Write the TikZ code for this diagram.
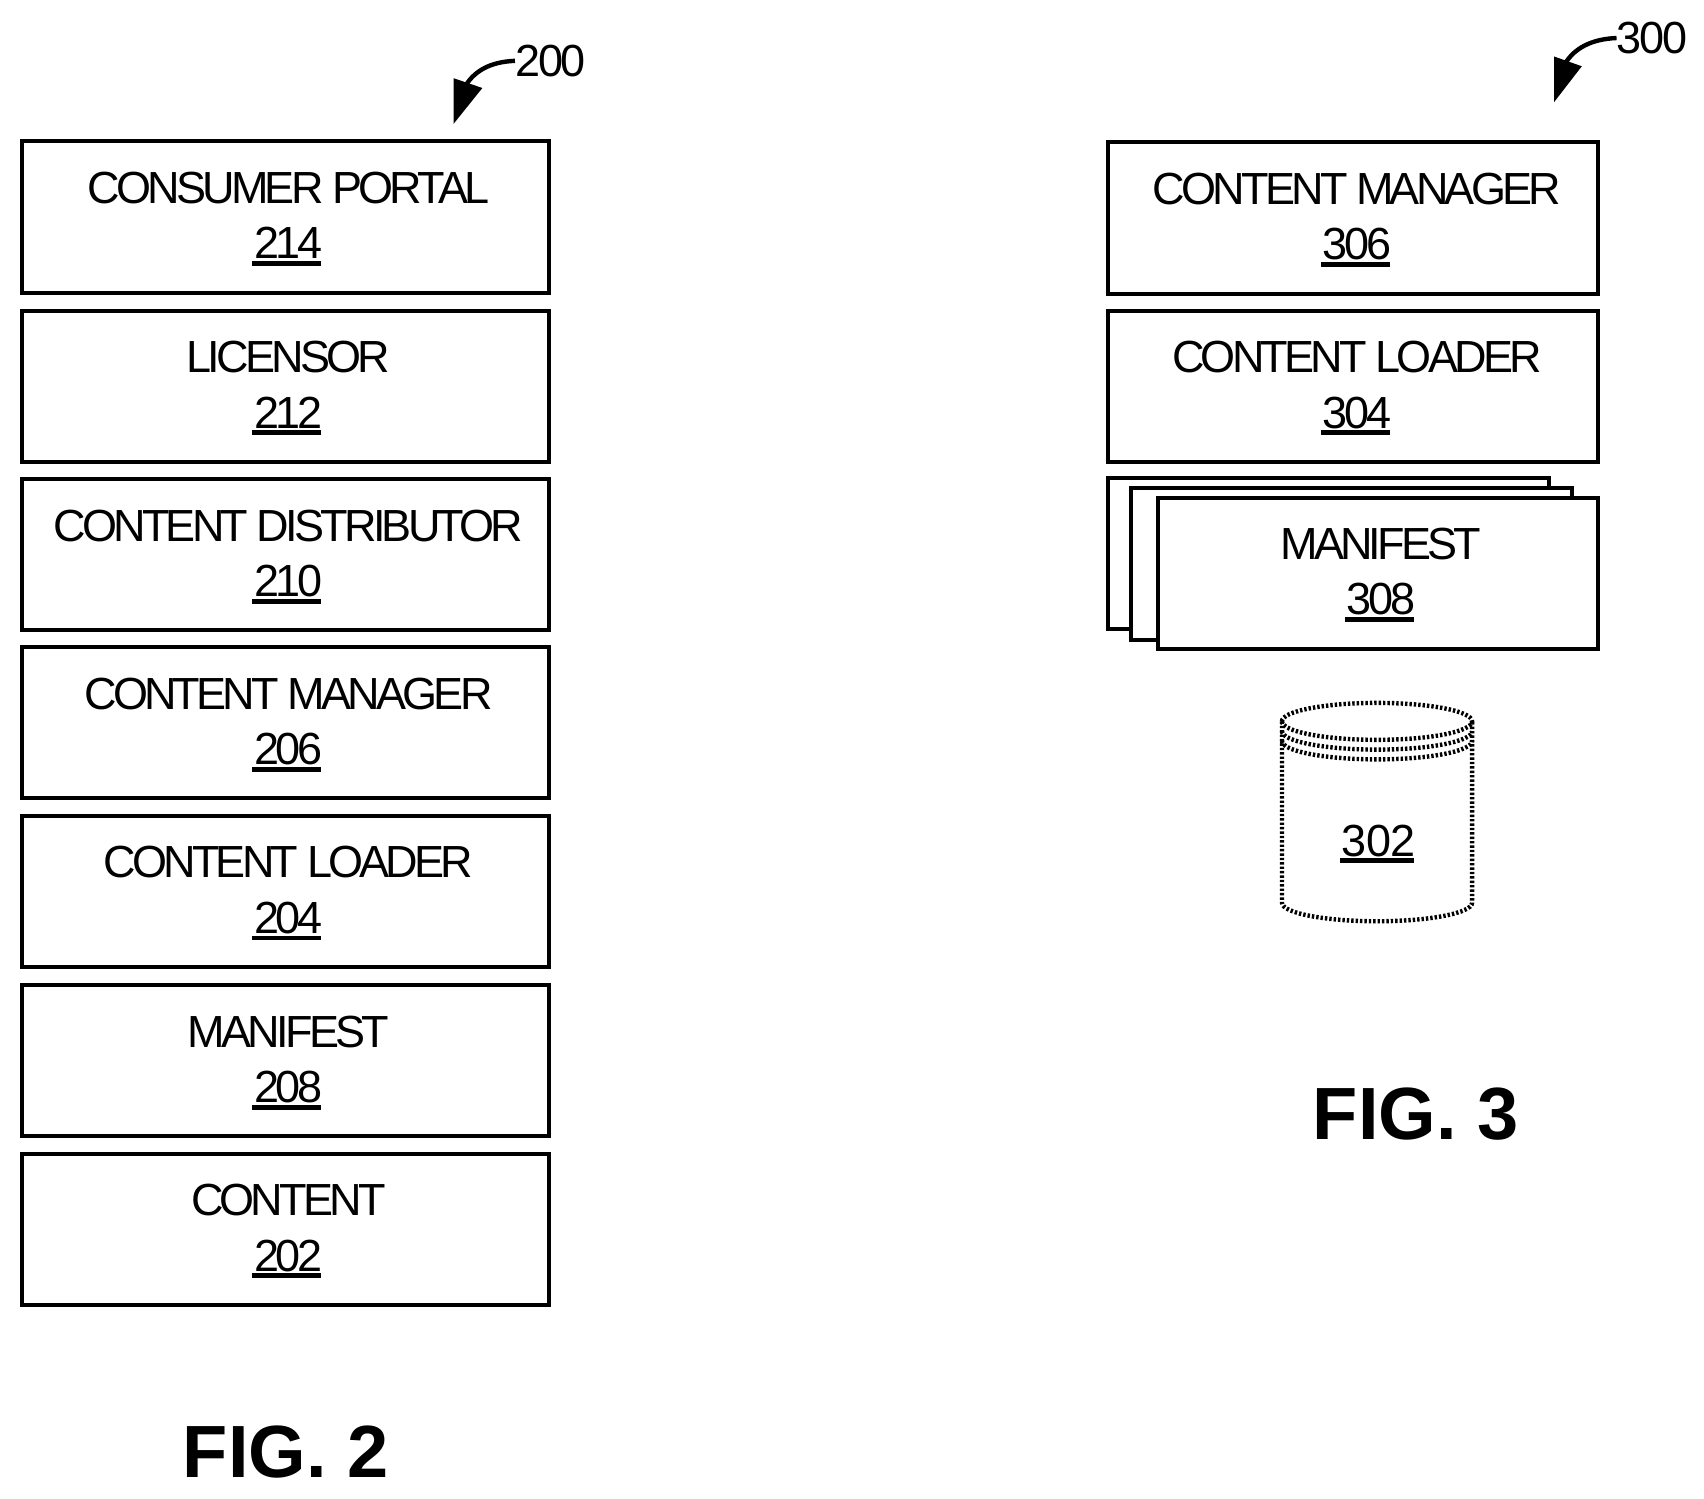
\documentclass[tikz,border=0pt]{standalone}
\usepackage{fontspec}
\setmainfont{Liberation Sans}
\newfontface\boxfont[LetterSpace=-8.4]{Liberation Sans}
\newfontface\numfont[LetterSpace=-7]{Liberation Sans}
\newfontface\refont[LetterSpace=-5]{Liberation Sans}
\newfontface\cylfont[LetterSpace=-1]{Liberation Sans}
\usetikzlibrary{calc}
\newcommand\unum[1]{\leavevmode\setbox0=\hbox{#1}\rlap{\copy0}\kern-0.8pt\rule[-3.6pt]{\wd0}{2.4pt}\kern0.8pt}
\tikzset{
  x=0.5432pt,y=-0.5432pt,
  blockst/.style={draw=black,line width=2pt,fill=white,rectangle,inner sep=0pt,line join=miter},
  titlest/.style={anchor=base,inner sep=0pt,font=\fontsize{22.5}{27}\boxfont},
  numst/.style={anchor=base,inner sep=0pt,font=\fontsize{22.5}{27}\numfont},
  refst/.style={anchor=base west,inner sep=0pt,font=\fontsize{22.5}{27}\refont},
  figst/.style={anchor=base,inner sep=0pt,font=\fontsize{37}{40}\bfseries},
  cylst/.style={draw=black,line width=2.2pt,dash pattern=on 1.2pt off 1pt},
  curvest/.style={draw=black,line width=2.2pt},
  headst/.style={fill=black,draw=none}
}
% name, x1, y1, x2, y2, text centre x, title, number
\newcommand\blk[8]{%
  \path[blockst] (#2,#3) rectangle (#4,#5);
  \coordinate (#1tl) at (#2,#3);
  \coordinate (#1br) at (#4,#5);
  \node[titlest] (#1t) at (#6,#3+57) {#7};
  \node[numst] (#1n) at (#6,#3+108) {\unum{#8}};
}
\begin{document}
\begin{tikzpicture}
\useasboundingbox (0,0) rectangle (1568.5,1379.8);
% FIG 2 stack
\blk{a}{20}{130}{505}{270}{265.5}{CONSUMER PORTAL}{214}
\blk{b}{20}{286}{505}{425}{265.5}{LICENSOR}{212}
\blk{c}{20}{441}{505}{580}{265.5}{CONTENT DISTRIBUTOR}{210}
\blk{d}{20}{596}{505}{735}{265.5}{CONTENT MANAGER}{206}
\blk{e}{20}{751}{505}{890}{265.5}{CONTENT LOADER}{204}
\blk{f}{20}{907}{505}{1046}{265.5}{MANIFEST}{208}
\blk{g}{20}{1062}{505}{1201}{265.5}{CONTENT}{202}
% FIG 3 stack
\blk{h}{1020}{131}{1471}{271}{1249}{CONTENT MANAGER}{306}
\blk{i}{1020}{286}{1471}{425}{1249}{CONTENT LOADER}{304}
\path[blockst] (1020,440) rectangle (1426,579);
\path[blockst] (1041,449) rectangle (1447,589);
\blk{j}{1066}{458}{1471}{597}{1271}{MANIFEST}{308}
% cylinder
\path[cylst] (1180,664) arc[start angle=180,end angle=-180,x radius=87.5,y radius=17];
\path[cylst] (1180,673) arc[start angle=180,end angle=0,x radius=87.5,y radius=17];
\path[cylst] (1180,682) arc[start angle=180,end angle=0,x radius=87.5,y radius=17];
\path[cylst] (1180,664) -- (1180,831) arc[start angle=180,end angle=0,x radius=87.5,y radius=17] -- (1355,664);
\node[numst,font=\fontsize{22.5}{27}\cylfont] (k) at (1269,788) {\unum{302}};
% reference numerals
\node[refst] (r200) at (474,70) {200};
\coordinate (h200) at (417.5,114);
\coordinate (c200) at (429,78);
\path[headst] (h200) -- (417.5,72) -- (444,81) -- cycle;
\draw[curvest] (r200.west |- 0,56) .. controls (450,57) and (437,66) .. (c200);
\node[refst] (r300) at (1488,49) {300};
\coordinate (h300) at (1430.5,94);
\coordinate (c300) at (1441,58);
\path[headst] (h300) -- (1430.5,52) -- (1456,61) -- cycle;
\draw[curvest] (r300.west |- 0,35) .. controls (1464,36) and (1449,45) .. (c300);
% figure captions
\node[figst] (f2) at (263,1360) {FIG. 2};
\node[figst] (f3) at (1303,1049) {FIG. 3};
\end{tikzpicture}
\end{document}
